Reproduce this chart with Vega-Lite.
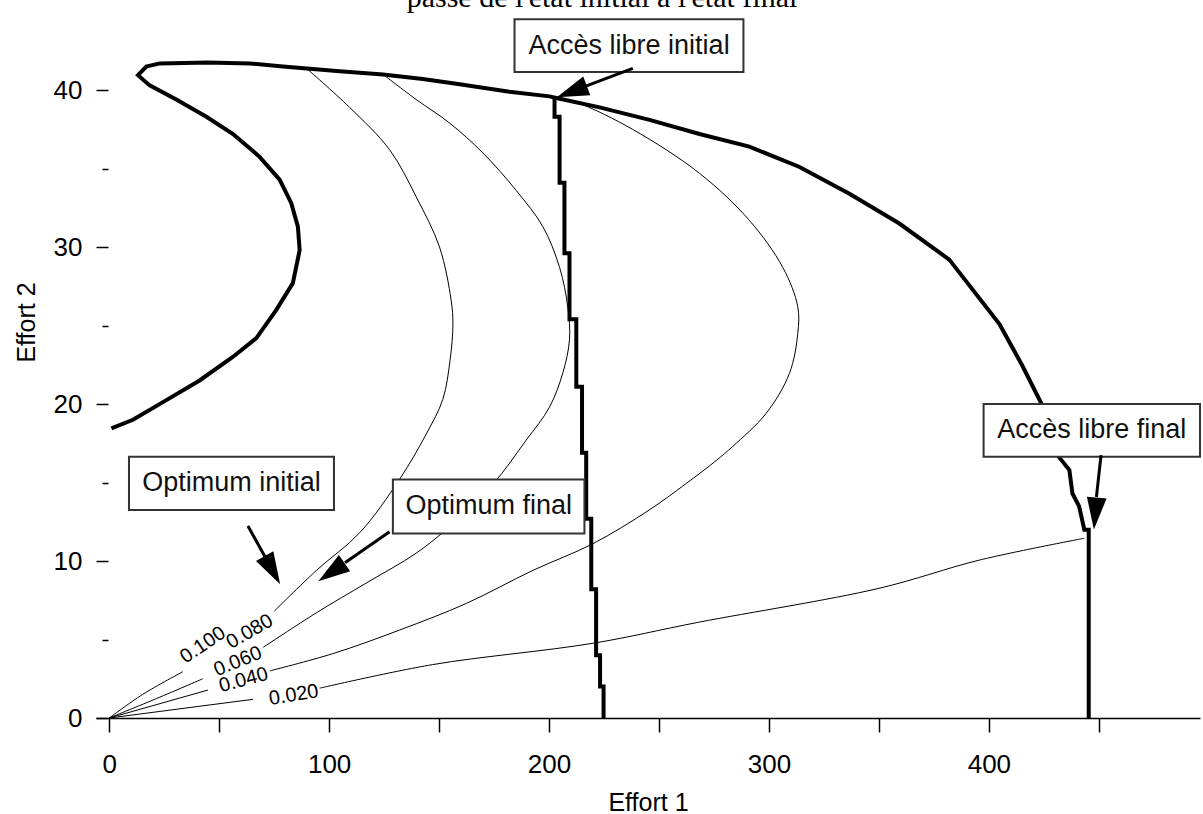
{
  "$schema": "https://vega.github.io/schema/vega-lite/v6.json",
  "width": 1104,
  "height": 675,
  "autosize": "none",
  "padding": {"left": 96, "top": 43, "right": 3, "bottom": 96},
  "background": "white",
  "title": {
    "text": "passe de l'état initial à l'état final",
    "font": "Liberation Serif",
    "fontSize": 30,
    "fontWeight": "normal",
    "color": "black",
    "anchor": "middle",
    "baseline": "alphabetic",
    "frame": "group",
    "offset": 8,
    "dy": 27,
    "dx": -46
  },
  "config": {
    "view": {"stroke": null},
    "axis": {
      "labelFont": "Liberation Sans",
      "titleFont": "Liberation Sans",
      "labelColor": "black",
      "titleColor": "black",
      "tickColor": "black",
      "domainColor": "black",
      "grid": false
    }
  },
  "datasets": {
    "thin": [
      {"s": "c100a", "i": 0, "x": 0, "y": 0},
      {"s": "c100a", "i": 1, "x": 15.2, "y": 1.5},
      {"s": "c100a", "i": 2, "x": 33.5, "y": 2.95},
      {"s": "c100b", "i": 0, "x": 75, "y": 6.8},
      {"s": "c100b", "i": 1, "x": 94.2, "y": 9.4},
      {"s": "c100b", "i": 2, "x": 113.9, "y": 11.8},
      {"s": "c100b", "i": 3, "x": 132, "y": 15.2},
      {"s": "c100b", "i": 4, "x": 144.2, "y": 18.1},
      {"s": "c100b", "i": 5, "x": 151.7, "y": 20.3},
      {"s": "c100b", "i": 6, "x": 155, "y": 22.8},
      {"s": "c100b", "i": 7, "x": 156.3, "y": 25.1},
      {"s": "c100b", "i": 8, "x": 155.5, "y": 26.6},
      {"s": "c100b", "i": 9, "x": 150.2, "y": 30},
      {"s": "c100b", "i": 10, "x": 139.6, "y": 33.2},
      {"s": "c100b", "i": 11, "x": 127.5, "y": 36.2},
      {"s": "c100b", "i": 12, "x": 109.3, "y": 38.9},
      {"s": "c100b", "i": 13, "x": 89.6, "y": 41.4},
      {"s": "c060a", "i": 0, "x": 0, "y": 0},
      {"s": "c060a", "i": 1, "x": 20, "y": 1.15},
      {"s": "c060a", "i": 2, "x": 42.6, "y": 2.5},
      {"s": "c060b", "i": 0, "x": 70, "y": 4.5},
      {"s": "c060b", "i": 1, "x": 94.2, "y": 6.7},
      {"s": "c060b", "i": 2, "x": 116.9, "y": 8.6},
      {"s": "c060b", "i": 3, "x": 139.6, "y": 10.5},
      {"s": "c060b", "i": 4, "x": 154.8, "y": 12.2},
      {"s": "c060b", "i": 5, "x": 174.5, "y": 14.9},
      {"s": "c060b", "i": 6, "x": 189.6, "y": 17.7},
      {"s": "c060b", "i": 7, "x": 200.2, "y": 19.8},
      {"s": "c060b", "i": 8, "x": 206.3, "y": 22},
      {"s": "c060b", "i": 9, "x": 209.3, "y": 24.1},
      {"s": "c060b", "i": 10, "x": 208.5, "y": 26.2},
      {"s": "c060b", "i": 11, "x": 204.8, "y": 28.7},
      {"s": "c060b", "i": 12, "x": 197.2, "y": 31.3},
      {"s": "c060b", "i": 13, "x": 185.1, "y": 33.6},
      {"s": "c060b", "i": 14, "x": 169.9, "y": 36},
      {"s": "c060b", "i": 15, "x": 154.8, "y": 37.9},
      {"s": "c060b", "i": 16, "x": 139.6, "y": 39.4},
      {"s": "c060b", "i": 17, "x": 124.5, "y": 41.0},
      {"s": "c040a", "i": 0, "x": 0, "y": 0},
      {"s": "c040a", "i": 1, "x": 44.9, "y": 1.78},
      {"s": "c040b", "i": 0, "x": 73, "y": 3.0},
      {"s": "c040b", "i": 1, "x": 101.7, "y": 4.1},
      {"s": "c040b", "i": 2, "x": 132, "y": 5.6},
      {"s": "c040b", "i": 3, "x": 162.4, "y": 7.3},
      {"s": "c040b", "i": 4, "x": 192.6, "y": 9.4},
      {"s": "c040b", "i": 5, "x": 219.9, "y": 11.1},
      {"s": "c040b", "i": 6, "x": 245, "y": 13.2},
      {"s": "c040b", "i": 7, "x": 262, "y": 14.9},
      {"s": "c040b", "i": 8, "x": 276, "y": 16.4},
      {"s": "c040b", "i": 9, "x": 283.5, "y": 17.3},
      {"s": "c040b", "i": 10, "x": 298.7, "y": 19.4},
      {"s": "c040b", "i": 11, "x": 309.3, "y": 21.95},
      {"s": "c040b", "i": 12, "x": 313.1, "y": 24.5},
      {"s": "c040b", "i": 13, "x": 313.1, "y": 26.2},
      {"s": "c040b", "i": 14, "x": 306.3, "y": 28.7},
      {"s": "c040b", "i": 15, "x": 291.1, "y": 31.7},
      {"s": "c040b", "i": 16, "x": 268.4, "y": 34.7},
      {"s": "c040b", "i": 17, "x": 238, "y": 37.5},
      {"s": "c040b", "i": 18, "x": 213.9, "y": 39.15},
      {"s": "c040b", "i": 19, "x": 205, "y": 39.5},
      {"s": "c020a", "i": 0, "x": 0, "y": 0},
      {"s": "c020a", "i": 1, "x": 65.4, "y": 1.19},
      {"s": "c020b", "i": 0, "x": 95.7, "y": 1.9},
      {"s": "c020b", "i": 1, "x": 147, "y": 3.4},
      {"s": "c020b", "i": 2, "x": 219.9, "y": 4.76},
      {"s": "c020b", "i": 3, "x": 268, "y": 6.1},
      {"s": "c020b", "i": 4, "x": 350, "y": 8.26},
      {"s": "c020b", "i": 5, "x": 395.7, "y": 10.06},
      {"s": "c020b", "i": 6, "x": 443.4, "y": 11.45}
    ],
    "thick": [
      {"s": "front", "i": 0, "x": 1.0, "y": 18.45},
      {"s": "front", "i": 1, "x": 10.8, "y": 19.0},
      {"s": "front", "i": 2, "x": 26, "y": 20.25},
      {"s": "front", "i": 3, "x": 41.1, "y": 21.5},
      {"s": "front", "i": 4, "x": 56.2, "y": 23.0},
      {"s": "front", "i": 5, "x": 66.9, "y": 24.2},
      {"s": "front", "i": 6, "x": 76, "y": 26.0},
      {"s": "front", "i": 7, "x": 83.5, "y": 27.7},
      {"s": "front", "i": 8, "x": 86.6, "y": 29.8},
      {"s": "front", "i": 9, "x": 85.8, "y": 31.3},
      {"s": "front", "i": 10, "x": 82.8, "y": 32.8},
      {"s": "front", "i": 11, "x": 77.5, "y": 34.3},
      {"s": "front", "i": 12, "x": 68.4, "y": 35.75},
      {"s": "front", "i": 13, "x": 56.3, "y": 37.2},
      {"s": "front", "i": 14, "x": 44.2, "y": 38.3},
      {"s": "front", "i": 15, "x": 30.5, "y": 39.4},
      {"s": "front", "i": 16, "x": 18.4, "y": 40.3},
      {"s": "front", "i": 17, "x": 13.1, "y": 40.95},
      {"s": "front", "i": 18, "x": 16.9, "y": 41.5},
      {"s": "front", "i": 19, "x": 23, "y": 41.7},
      {"s": "front", "i": 20, "x": 45, "y": 41.75},
      {"s": "front", "i": 21, "x": 63.9, "y": 41.7},
      {"s": "front", "i": 22, "x": 79, "y": 41.5},
      {"s": "front", "i": 23, "x": 104.8, "y": 41.2},
      {"s": "front", "i": 24, "x": 124.5, "y": 41.0},
      {"s": "front", "i": 25, "x": 142.6, "y": 40.7},
      {"s": "front", "i": 26, "x": 157.8, "y": 40.4},
      {"s": "front", "i": 27, "x": 182, "y": 39.9},
      {"s": "front", "i": 28, "x": 200.2, "y": 39.6},
      {"s": "front", "i": 29, "x": 203.3, "y": 39.5},
      {"s": "front", "i": 30, "x": 223, "y": 38.9},
      {"s": "front", "i": 31, "x": 245.7, "y": 38.1},
      {"s": "front", "i": 32, "x": 268.4, "y": 37.2},
      {"s": "front", "i": 33, "x": 291.1, "y": 36.4},
      {"s": "front", "i": 34, "x": 313.9, "y": 35.1},
      {"s": "front", "i": 35, "x": 336.6, "y": 33.4},
      {"s": "front", "i": 36, "x": 359.3, "y": 31.5},
      {"s": "front", "i": 37, "x": 382, "y": 29.2},
      {"s": "front", "i": 38, "x": 404.8, "y": 25.1},
      {"s": "front", "i": 39, "x": 415, "y": 22.5},
      {"s": "front", "i": 40, "x": 424, "y": 20},
      {"s": "front", "i": 41, "x": 429, "y": 18},
      {"s": "front", "i": 42, "x": 432, "y": 16.6},
      {"s": "front", "i": 43, "x": 436.6, "y": 15.8},
      {"s": "front", "i": 44, "x": 438, "y": 14.3},
      {"s": "front", "i": 45, "x": 441, "y": 13.5},
      {"s": "front", "i": 46, "x": 443.4, "y": 12.0},
      {"s": "front", "i": 47, "x": 445.4, "y": 12.0},
      {"s": "front", "i": 48, "x": 445.4, "y": 0},
      {"s": "stair", "i": 0, "x": 201.7, "y": 39.5},
      {"s": "stair", "i": 1, "x": 202.5, "y": 39.5},
      {"s": "stair", "i": 2, "x": 202.5, "y": 38.3},
      {"s": "stair", "i": 3, "x": 204.8, "y": 38.3},
      {"s": "stair", "i": 4, "x": 204.8, "y": 34.1},
      {"s": "stair", "i": 5, "x": 207, "y": 34.1},
      {"s": "stair", "i": 6, "x": 207, "y": 29.6},
      {"s": "stair", "i": 7, "x": 209.3, "y": 29.6},
      {"s": "stair", "i": 8, "x": 209.3, "y": 25.4},
      {"s": "stair", "i": 9, "x": 212.4, "y": 25.4},
      {"s": "stair", "i": 10, "x": 212.4, "y": 21.1},
      {"s": "stair", "i": 11, "x": 215, "y": 21.1},
      {"s": "stair", "i": 12, "x": 215, "y": 16.9},
      {"s": "stair", "i": 13, "x": 216.9, "y": 16.9},
      {"s": "stair", "i": 14, "x": 216.9, "y": 12.7},
      {"s": "stair", "i": 15, "x": 219.2, "y": 12.7},
      {"s": "stair", "i": 16, "x": 219.2, "y": 8.2},
      {"s": "stair", "i": 17, "x": 221.4, "y": 8.2},
      {"s": "stair", "i": 18, "x": 221.4, "y": 4.0},
      {"s": "stair", "i": 19, "x": 223.2, "y": 4.0},
      {"s": "stair", "i": 20, "x": 223.2, "y": 2.0},
      {"s": "stair", "i": 21, "x": 224.8, "y": 2.0},
      {"s": "stair", "i": 22, "x": 224.8, "y": 0}
    ],
    "clabels": [
      {"t": "0.100", "x": 42.6, "y": 4.65, "a": -34},
      {"t": "0.080", "x": 63.9, "y": 5.5, "a": -30},
      {"t": "0.060", "x": 58.5, "y": 3.6, "a": -22},
      {"t": "0.040", "x": 61.1, "y": 2.42, "a": -15},
      {"t": "0.020", "x": 83.9, "y": 1.46, "a": -9}
    ],
    "shafts": [
      {"a": "ini", "x": 238.1, "y": 41.38, "x2": 216.7, "y2": 40.25},
      {"a": "fin", "x": 451.0, "y": 16.75, "x2": 448.9, "y2": 14.08},
      {"a": "oi", "x": 63.1, "y": 12.23, "x2": 70.9, "y2": 10.25},
      {"a": "of", "x": 127.5, "y": 11.87, "x2": 107.2, "y2": 9.89}
    ],
    "heads": [
      {"a": "ini", "x": 210.35, "y": 39.91, "dir": 249.3},
      {"a": "fin", "x": 448.4, "y": 13.03, "dir": 185.1},
      {"a": "oi", "x": 74.2, "y": 9.42, "dir": 151.1},
      {"a": "of", "x": 101.05, "y": 9.29, "dir": 235.1}
    ],
    "boxes": [
      {"t": "Accès libre initial", "x": 184.3, "x2": 288.4, "y": 44.52, "y2": 41.15},
      {"t": "Accès libre final", "x": 397.6, "x2": 496.0, "y": 20.0, "y2": 16.64},
      {"t": "Optimum initial", "x": 9.0, "x2": 102.2, "y": 16.64, "y2": 13.25},
      {"t": "Optimum final", "x": 129.0, "x2": 216.1, "y": 15.2, "y2": 11.76}
    ],
    "boxtext": [
      {"t": "Accès libre initial", "x": 236.4, "y": 42.83},
      {"t": "Accès libre final", "x": 446.8, "y": 18.32},
      {"t": "Optimum initial", "x": 55.6, "y": 14.95},
      {"t": "Optimum final", "x": 172.6, "y": 13.48}
    ]
  },
  "encoding": {
    "x": {
      "field": "x", "type": "quantitative",
      "scale": {"domain": [-6, 496], "nice": false, "zero": false},
      "axis": {
        "title": "Effort 1",
        "values": [0, 50, 100, 150, 200, 250, 300, 350, 400, 450],
        "labelExpr": "datum.value % 100 === 0 ? datum.label : ''",
        "tickSize": 14,
        "tickWidth": 1.5,
        "domainWidth": 1.5,
        "labelFontSize": 26,
        "labelPadding": 19,
        "labelFlush": false,
        "labelOverlap": false,
        "titleFontSize": 25,
        "titleFontWeight": "normal",
        "titlePadding": 13
      }
    },
    "y": {
      "field": "y", "type": "quantitative",
      "scale": {"domain": [0, 43], "nice": false, "zero": false},
      "axis": {
        "title": "Effort 2",
        "values": [0, 5, 10, 15, 20, 25, 30, 35, 40],
        "labelExpr": "datum.value % 10 === 0 ? datum.label : ''",
        "domain": false,
        "offset": -12,
        "tickSize": {"condition": {"test": "datum.value % 10 === 0", "value": 12}, "value": 6},
        "tickWidth": 1.5,
        "labelFontSize": 26,
        "labelPadding": 14,
        "labelFlush": false,
        "labelOverlap": false,
        "titleFontSize": 25,
        "titleFontWeight": "normal",
        "titlePadding": 14,
        "titleY": 279
      }
    }
  },
  "layer": [
    {
      "data": {"name": "thin"},
      "mark": {"type": "line", "color": "black", "strokeWidth": 1, "interpolate": "catmull-rom"},
      "encoding": {
        "detail": {"field": "s"},
        "order": {"field": "i", "type": "quantitative"}
      }
    },
    {
      "data": {"name": "thick"},
      "mark": {"type": "line", "color": "black", "strokeWidth": 4, "strokeJoin": "miter", "strokeCap": "butt"},
      "encoding": {
        "detail": {"field": "s"},
        "order": {"field": "i", "type": "quantitative"}
      }
    },
    {
      "data": {"name": "clabels"},
      "mark": {"type": "text", "font": "Liberation Sans", "fontSize": 20, "color": "black", "align": "center", "baseline": "middle"},
      "encoding": {
        "text": {"field": "t"},
        "angle": {"field": "a", "type": "quantitative", "scale": null}
      }
    },
    {
      "data": {"name": "boxes"},
      "mark": {"type": "rect", "fill": "white", "stroke": "#333333", "strokeWidth": 2},
      "encoding": {
        "x2": {"field": "x2"},
        "y2": {"field": "y2"}
      }
    },
    {
      "data": {"name": "boxtext"},
      "mark": {"type": "text", "font": "Liberation Sans", "fontSize": 27, "color": "#111111", "align": "center", "baseline": "middle"},
      "encoding": {
        "text": {"field": "t"}
      }
    },
    {
      "data": {"name": "shafts"},
      "mark": {"type": "rule", "color": "black", "strokeWidth": 3},
      "encoding": {
        "x2": {"field": "x2"},
        "y2": {"field": "y2"}
      }
    },
    {
      "data": {"name": "heads"},
      "mark": {"type": "point", "filled": true, "color": "black", "opacity": 1, "size": 1024, "shape": "M0,-1L0.62,1L-0.62,1Z"},
      "encoding": {
        "angle": {"field": "dir", "type": "quantitative", "scale": null}
      }
    }
  ]
}
